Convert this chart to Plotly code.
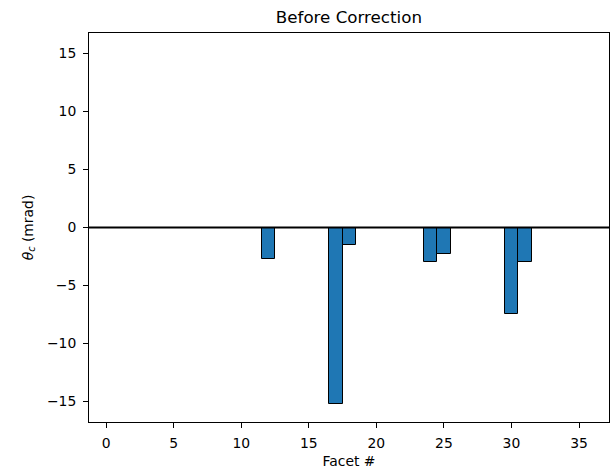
import plotly.graph_objects as go

facets = list(range(36))
theta_c = [0.0] * 36
nonzero = {12: -2.68, 17: -15.24, 18: -1.5, 24: -2.98, 25: -2.25, 30: -7.42, 31: -2.98}
for k, v in nonzero.items():
    theta_c[k] = v

x_ticks = [0, 5, 10, 15, 20, 25, 30, 35]
y_ticks = [-15, -10, -5, 0, 5, 10, 15]
title_text = "Before Correction"
x_label = "Facet #"
y_label = "<i>θ</i><sub><i>c</i></sub> (mrad)"

ymax = 1.1 * max(abs(v) for v in theta_c)

W, H = 616, 469
ml, mr, mt, mb = 88.5, 6.7, 33.3, 47.3

fig = go.Figure()
fig.add_trace(go.Bar(
    x=facets, y=theta_c, width=1.0,
    marker=dict(color="#1f77b4", line=dict(color="black", width=1)),
    showlegend=False,
))
fig.add_shape(type="line", xref="paper", x0=0, x1=1, yref="y", y0=0, y1=0,
              line=dict(color="black", width=2), layer="above")

fig.update_layout(
    width=W, height=H,
    margin=dict(l=ml, r=mr, t=mt, b=mb, pad=0, autoexpand=False),
    paper_bgcolor="white", plot_bgcolor="white",
    font=dict(family="DejaVu Sans", size=13.9, color="black"),
    title=dict(text=title_text, x=(ml + (W - mr)) / 2 / W, xanchor="center",
               y=1 - 17 / H, yanchor="middle", yref="container",
               font=dict(family="DejaVu Sans", size=16.7, color="black")),
    bargap=0,
)
fig.update_xaxes(
    range=[-1.27, 37.22], tickvals=x_ticks, ticks="outside", ticklen=4.9, tickwidth=1.1,
    tickcolor="black", showline=True, linecolor="black", linewidth=1.1, mirror=True,
    showgrid=False, zeroline=False, ticklabelstandoff=3, automargin=False,
    title=dict(text=x_label, standoff=6, font=dict(size=13.9)),
    tickfont=dict(size=13.9),
)
fig.update_yaxes(
    range=[-ymax, ymax], tickvals=y_ticks, ticks="outside", ticklen=4.9, tickwidth=1.1,
    tickcolor="black", showline=True, linecolor="black", linewidth=1.1, mirror=True,
    showgrid=False, zeroline=False, ticklabelstandoff=4, automargin=False,
    title=dict(text=y_label, standoff=10, font=dict(size=13.9)),
    tickfont=dict(size=13.9),
)
fig.write_html("out.html")
